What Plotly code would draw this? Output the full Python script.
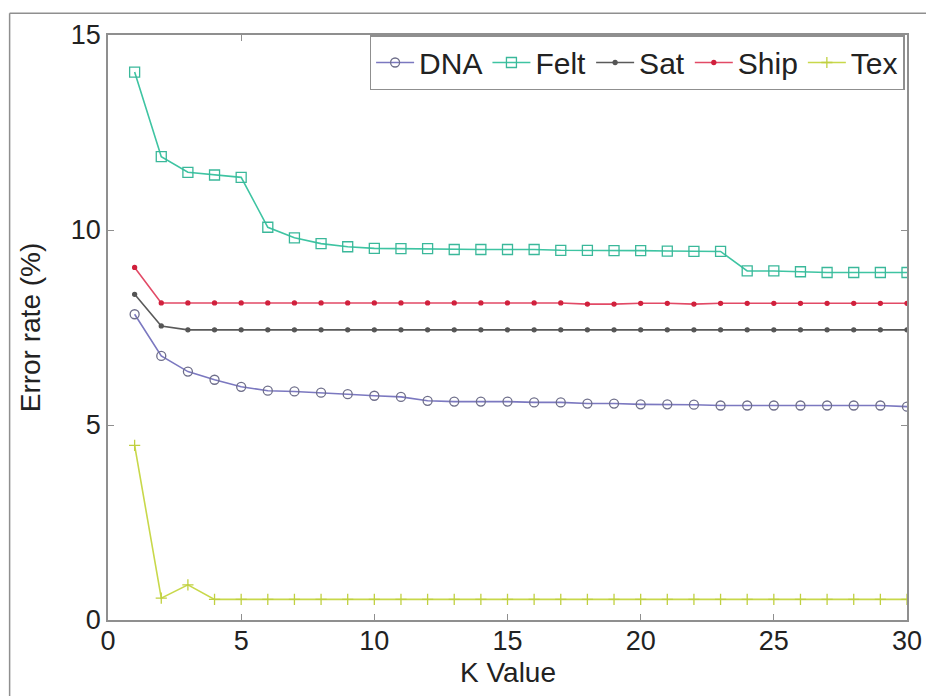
import plotly.graph_objects as go

k_values = list(range(1, 31))

dna = [7.84, 6.77, 6.37, 6.16, 5.98, 5.88, 5.86, 5.83, 5.79, 5.75,
       5.72, 5.62, 5.60, 5.60, 5.60, 5.58, 5.58, 5.55, 5.55, 5.53,
       5.53, 5.52, 5.50, 5.50, 5.50, 5.50, 5.50, 5.50, 5.50, 5.47]
felt = [14.05, 11.88, 11.48, 11.41, 11.35, 10.07, 9.80, 9.65, 9.57, 9.53,
        9.52, 9.52, 9.50, 9.50, 9.50, 9.50, 9.48, 9.48, 9.47, 9.47,
        9.46, 9.45, 9.45, 8.95, 8.95, 8.93, 8.91, 8.91, 8.91, 8.91]
sat = [8.35, 7.54] + [7.44] * 28
ship = [9.04, 8.13, 8.13, 8.13, 8.13, 8.13, 8.13, 8.13, 8.13, 8.13,
        8.13, 8.13, 8.13, 8.13, 8.13, 8.13, 8.13, 8.10, 8.10, 8.12,
        8.12, 8.10, 8.12, 8.12, 8.12, 8.12, 8.12, 8.12, 8.12, 8.12]
tex = [4.48, 0.56, 0.90] + [0.53] * 27

series_names = ["DNA", "Felt", "Sat", "Ship", "Tex"]
series_values = [dna, felt, sat, ship, tex]
line_colors = ["#7b78c0", "#3ec4a2", "#5a5a5a", "#e24a66", "#c8d84a"]
marker_colors = ["#6e6e8a", "#3ab89a", "#555555", "#d0203c", "#c0d040"]
marker_symbols = ["circle-open", "square-open", "circle", "circle", "cross-thin-open"]
marker_sizes = [9, 10, 4, 4, 8]

x_ticks = [0, 5, 10, 15, 20, 25, 30]
y_ticks = [0, 5, 10, 15]

font_family = "Arial, Liberation Sans, sans-serif"

fig = go.Figure()
for name, vals, lc, mc, sym, sz in zip(series_names, series_values, line_colors,
                                       marker_colors, marker_symbols, marker_sizes):
    fig.add_trace(go.Scatter(
        x=k_values, y=vals, name=name, mode="lines+markers",
        line=dict(color=lc, width=1.6),
        marker=dict(symbol=sym, size=sz, color=mc, line=dict(color=mc, width=1.3)),
    ))

axis_common = dict(
    showgrid=False, zeroline=False, showline=True, linecolor="#8f8f8f", linewidth=1.5,
    mirror="allticks", ticks="inside", ticklen=6, tickcolor="#8f8f8f",
    tickfont=dict(family=font_family, size=27, color="#222222"),
)

plot_h = 688 - 23 - 76

# the page adds an 8px body margin, so the figure is sized to fit the 934x696 window
fig.update_layout(
    width=926, height=688,
    paper_bgcolor="white", plot_bgcolor="white",
    margin=dict(l=100, r=22, t=23, b=76),
    font=dict(family=font_family, color="#222222"),
    xaxis=dict(range=[0, 30], tickvals=x_ticks, ticklabelstandoff=-4, **axis_common),
    yaxis=dict(range=[0, 15], tickvals=y_ticks,
               title=dict(text="Error rate (%)", font=dict(family=font_family, size=28), standoff=22),
               **axis_common),
    legend=dict(
        orientation="h", x=0.997, xanchor="right", y=1.0, yanchor="top",
        bgcolor="white", bordercolor="#8f8f8f", borderwidth=1.5,
        font=dict(family=font_family, size=30, color="#222222"),
        itemwidth=38, tracegroupgap=0,
    ),
    showlegend=True,
)

fig.add_annotation(text="K Value", xref="paper", yref="paper", x=0.5, y=-53 / plot_h,
                   xanchor="center", yanchor="middle", showarrow=False,
                   font=dict(family=font_family, size=28, color="#222222"))

# outer frame of the original figure (top and left edges)
fig.add_shape(type="line", xref="paper", yref="paper",
              x0=-99 / 804, x1=1.05, y0=1 + 22 / plot_h, y1=1 + 22 / plot_h,
              line=dict(color="#8f8f8f", width=1.5))
fig.add_shape(type="line", xref="paper", yref="paper",
              x0=-99 / 804, x1=-99 / 804, y0=-0.2, y1=1 + 22 / plot_h,
              line=dict(color="#8f8f8f", width=1.5))

fig.write_html("out.html")
